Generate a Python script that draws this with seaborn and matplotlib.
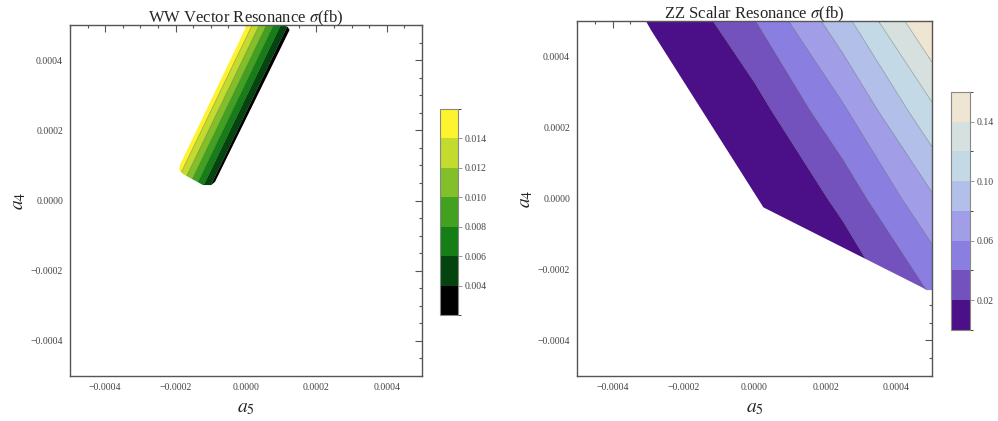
import numpy as np
import matplotlib
matplotlib.use('Agg')
import matplotlib.pyplot as plt
import seaborn as sns
from matplotlib.colors import ListedColormap, BoundaryNorm
from matplotlib.patches import Polygon
from matplotlib.cm import ScalarMappable
from matplotlib.ticker import MultipleLocator, FuncFormatter

SCALE = 1e-4  # couplings below are in units of 1e-4

# WW vector resonance: sigma (fb) on a coarse a5 x a4 grid
ww_a5 = [-2.0, -0.25, 1.5]
ww_a4 = [0.0, 2.5, 5.0]
ww_sigma = [
    [0.01180, -0.00540, -0.02260],
    [0.02360, 0.00640, -0.01081],
    [0.03539, 0.01819, 0.00099],
]
# allowed region (outline of the band)
ww_edge_a5 = [0.03, -1.875, -1.90, -1.79, -1.22, -0.99, -0.88, 1.24, 1.19, 1.08]
ww_edge_a4 = [5.0, 1.01, 0.87, 0.755, 0.44, 0.44, 0.53, 4.86, 4.94, 5.0]
ww_levels = [0.002, 0.004, 0.006, 0.008, 0.010, 0.012, 0.014, 0.016]
ww_ticks = [0.004, 0.006, 0.008, 0.010, 0.012, 0.014]
ww_colors = ['#000000', '#03440F', '#157E17', '#42A121', '#82BF28', '#C3DA2E', '#FDF32E']

# ZZ scalar resonance
zz_a5 = [-5.0, -2.5, 0.0, 2.5, 5.0]
zz_a4 = [-5.0, -2.5, 0.0, 2.5, 5.0]
zz_sigma = [
    [-0.1121, -0.0812, -0.0502, -0.0193, 0.01514],
    [-0.0924, -0.0614, -0.0305, 0.00133, 0.04355],
    [-0.0727, -0.0417, -0.0108, 0.02671, 0.07725],
    [-0.0530, -0.0220, 0.01158, 0.05738, 0.11623],
    [-0.0332, -0.0018, 0.03926, 0.09337, 0.16055],
]
zz_edge_a5 = [-3.06, -2.92, 0.25, 4.71, 4.85, 5.0, 5.0]
zz_edge_a4 = [5.0, 4.75, -0.25, -2.50, -2.58, -2.58, 5.0]
zz_levels = [0.00, 0.02, 0.04, 0.06, 0.08, 0.10, 0.12, 0.14, 0.16]
zz_ticks = [0.02, 0.06, 0.10, 0.14]
zz_colors = ['#4B1087', '#7352BD', '#8A7FE1', '#A19EE7', '#B2BFE8', '#C4D9E6', '#D6E0DF', '#EEE5D2']

FRAME = '#555555'
TICKTXT = '#444444'


def fmt_tick(x, pos):
    if abs(x) < 1e-12:
        x = 0.0
    return f'{x:.4f}'.replace('-', '\u2212')


def draw_panel(fig, ax, cax, a5, a4, sigma, edge_a5, edge_a4, levels, colors, ticks,
               title, cb_fmt):
    X, Y = np.meshgrid(np.array(a5) * SCALE, np.array(a4) * SCALE)
    Z = np.array(sigma)
    cmap = ListedColormap(colors)
    norm = BoundaryNorm(levels, len(colors))

    # lowest and highest bands take everything below / above the inner contours
    fill_levels = [min(Z.min(), levels[0]) - 1.0] + list(levels[1:-1]) + [max(Z.max(), levels[-1]) + 1.0]
    fill_norm = BoundaryNorm(fill_levels, len(colors))

    region = Polygon(np.column_stack([np.array(edge_a5) * SCALE, np.array(edge_a4) * SCALE]),
                     closed=True, transform=ax.transData, facecolor='none', edgecolor='none')
    cs = ax.contourf(X, Y, Z, levels=fill_levels, cmap=cmap, norm=fill_norm, antialiased=True)
    cs.set_clip_path(region)
    cl = ax.contour(X, Y, Z, levels=levels[1:-1], colors='k', linewidths=0.5, alpha=0.3)
    cl.set_clip_path(region)

    ax.set_xlim(-0.0005, 0.0005)
    ax.set_ylim(-0.0005, 0.0005)
    ax.xaxis.set_major_locator(MultipleLocator(0.0002))
    ax.yaxis.set_major_locator(MultipleLocator(0.0002))
    ax.xaxis.set_minor_locator(MultipleLocator(0.00005))
    ax.yaxis.set_minor_locator(MultipleLocator(0.00005))
    ax.xaxis.set_major_formatter(FuncFormatter(fmt_tick))
    ax.yaxis.set_major_formatter(FuncFormatter(fmt_tick))
    ax.tick_params(which='both', direction='in', top=True, right=True, color=FRAME,
                   labelsize=7, labelcolor=TICKTXT, width=0.8)
    ax.tick_params(which='major', length=5, pad=5)
    ax.tick_params(which='minor', length=2.5)
    for lab in ax.get_xticklabels() + ax.get_yticklabels():
        lab.set_family('Liberation Serif')
    for sp in ax.spines.values():
        sp.set_color(FRAME)
        sp.set_linewidth(1.0)
        sp.set_visible(True)

    ax.set_xlabel('$a_5$', fontsize=14, labelpad=6)
    ax.set_ylabel('$a_4$', fontsize=14, labelpad=2)
    ax.set_title(title, fontsize=12, pad=2, family='Liberation Serif')

    sm = ScalarMappable(norm=norm, cmap=cmap)
    cb = fig.colorbar(sm, cax=cax, ticks=ticks)
    cb.outline.set_edgecolor('#888888')
    cb.outline.set_linewidth(0.8)
    cb.ax.tick_params(direction='out', length=3, width=0.6, color='#888888',
                      labelsize=7, labelcolor=TICKTXT, pad=2)
    cb.ax.yaxis.set_major_formatter(FuncFormatter(lambda v, p: cb_fmt.format(v)))
    for lab in cb.ax.get_yticklabels():
        lab.set_family('Liberation Serif')


def main():
    sns.set_style('white')
    plt.rcParams['font.family'] = ['Liberation Serif', 'DejaVu Serif']
    plt.rcParams['mathtext.fontset'] = 'stix'
    plt.rcParams['axes.unicode_minus'] = True

    fig = plt.figure(figsize=(9.98, 4.21), dpi=100)
    ax1 = fig.add_axes([0.0701, 0.1069, 0.3527, 0.8337])
    cax1 = fig.add_axes([0.4409, 0.2518, 0.0180, 0.4893])
    ax2 = fig.add_axes([0.5782, 0.1069, 0.3557, 0.8432])
    cax2 = fig.add_axes([0.9529, 0.2162, 0.0190, 0.5653])

    draw_panel(fig, ax1, cax1, ww_a5, ww_a4, ww_sigma, ww_edge_a5, ww_edge_a4,
               ww_levels, ww_colors, ww_ticks, r'WW Vector Resonance $\sigma$(fb)', '{:.3f}')
    draw_panel(fig, ax2, cax2, zz_a5, zz_a4, zz_sigma, zz_edge_a5, zz_edge_a4,
               zz_levels, zz_colors, zz_ticks, r'ZZ Scalar Resonance $\sigma$(fb)', '{:.2f}')

    fig.savefig('out.png', dpi=100)
    plt.close(fig)


if __name__ == '__main__':
    main()
